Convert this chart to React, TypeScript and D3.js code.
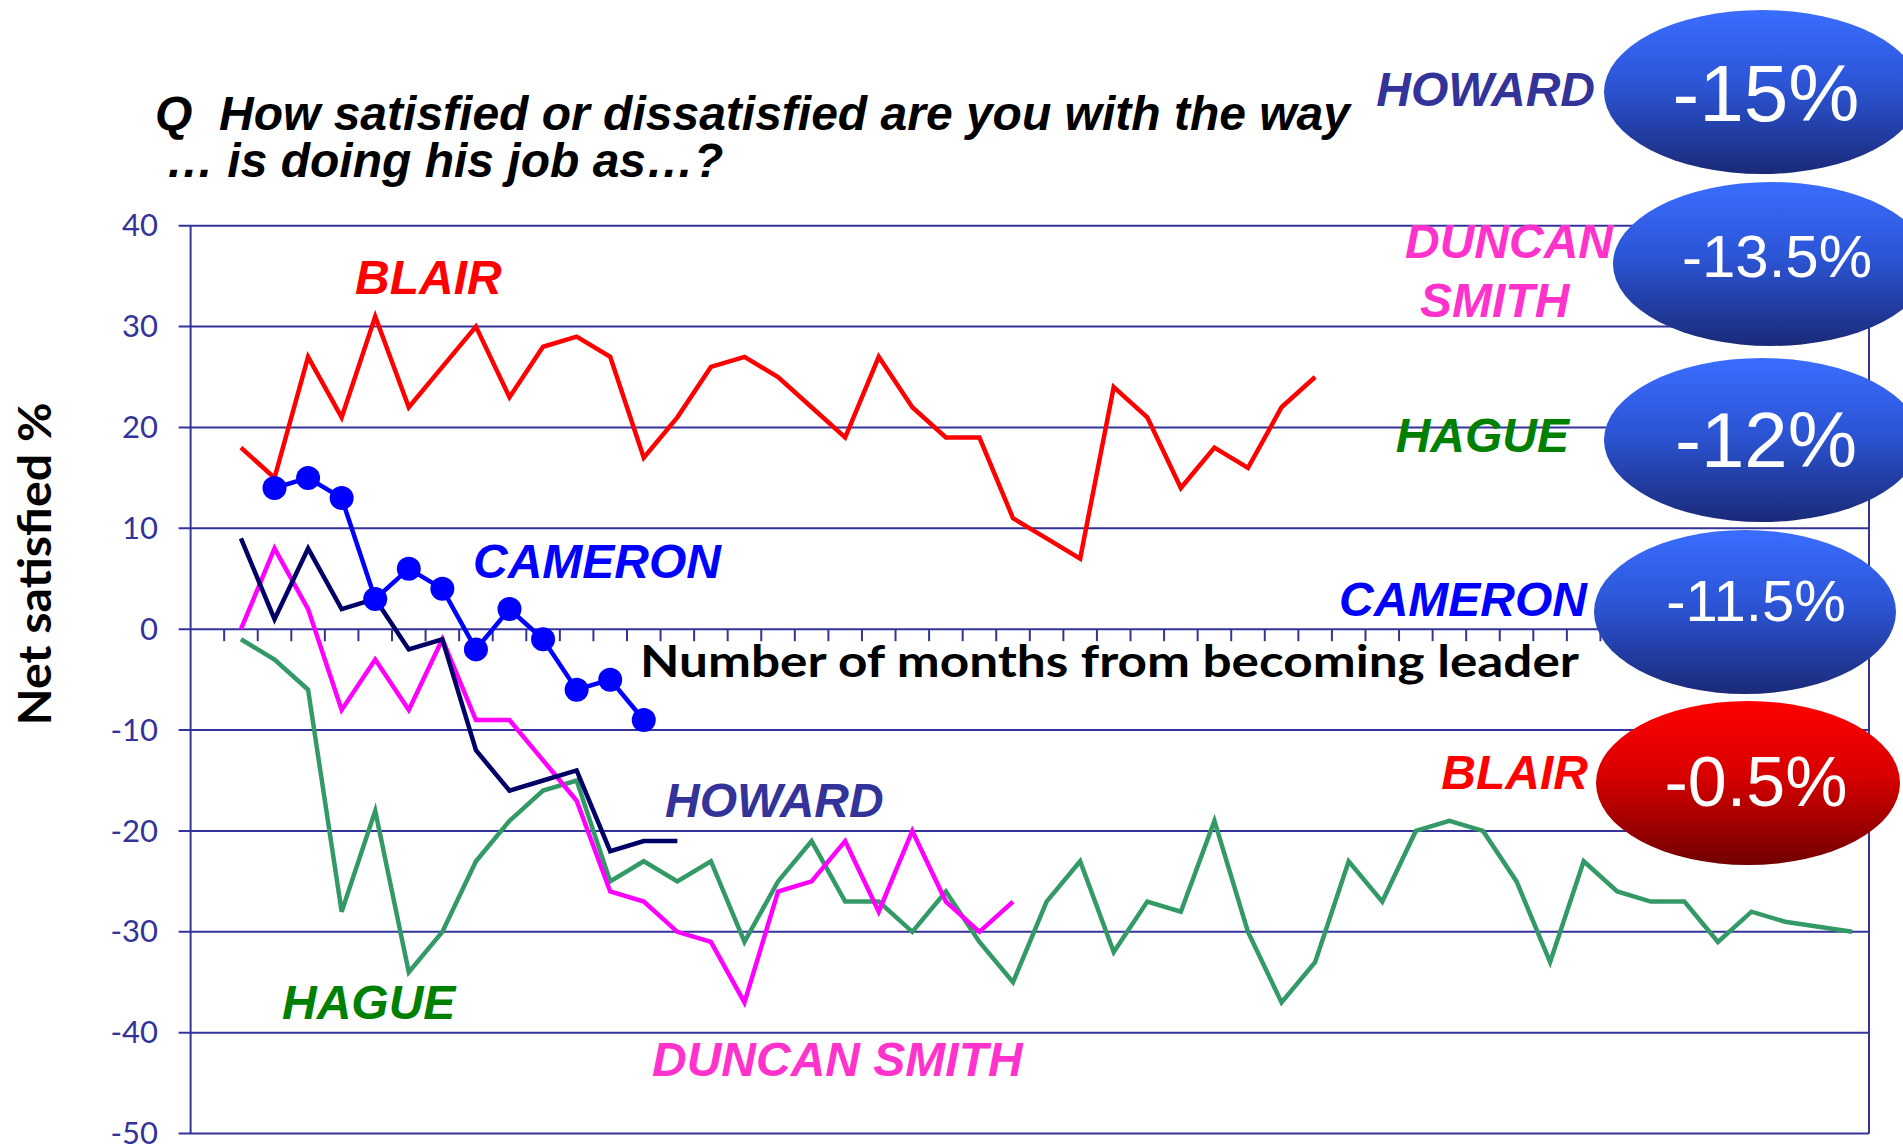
import React from 'react'
import * as d3 from 'd3'

// net satisfied %, one value per month since becoming leader
const blair = [18, 15, 27, 21, 31, 22, 26, 30, 23, 28, 29, 27, 17, 21, 26, 27, 25, 22, 19, 27, 22, 19, 19, 11, 9, 7, 24, 21, 14, 18, 16, 22, 25]
const cameron = [14, 15, 13, 3, 6, 4, -2, 2, -1, -6, -5, -9]
const howard = [9, 1, 8, 2, 3, -2, -1, -12, -16, -15, -14, -22, -21, -21]
const duncanSmith = [0, 8, 2, -8, -3, -8, -1, -9, -9, -13, -17, -26, -27, -30, -31, -37, -26, -25, -21, -28, -20, -27, -30, -27]
const hague = [-1, -3, -6, -28, -18, -34, -30, -23, -19, -16, -15, -25, -23, -25, -23, -31, -25, -21, -27, -27, -30, -26, -31, -35, -27, -23, -32, -27, -28, -19, -30, -37, -33, -23, -27, -20, -19, -20, -25, -33, -23, -26, -27, -27, -31, -28, -29, -29.5, -30]

// first month of each series on the category axis
const blairStart = 1
const cameronStart = 2
const howardStart = 1
const duncanStart = 1
const hagueStart = 1

const monthCount = 50
const yTicks = [40, 30, 20, 10, 0, -10, -20, -30, -40, -50]

// average change shown in the bubbles
const summaryNames = ['HOWARD', 'DUNCAN SMITH', 'HAGUE', 'CAMERON', 'BLAIR']
const summaryValues = ['-15%', '-13.5%', '-12%', '-11.5%', '-0.5%']

const axisColor = '#333399'
const boldItalic = '"Liberation Sans", Arial, sans-serif'
const gill = 'Lato, "Open Sans", sans-serif'

const App = () => {
  const svgWidth = 1903
  const svgHeight = 1147
  const left = 190.6
  const right = 1869
  const top = 225.7
  const bottom = 1133.6

  const x = d3.scaleBand<number>()
    .domain(d3.range(monthCount))
    .range([left, right])
    .paddingInner(0)
    .paddingOuter(0)
  const y = d3.scaleLinear().domain([-50, 40]).range([bottom, top])
  const bw = x.bandwidth()

  const cx = (i: number) => (x(i) as number) + bw / 2

  const makeLine = (start: number) =>
    d3.line<number>()
      .x((d, i) => cx(start + i))
      .y(d => y(d))

  const series = [
    { data: hague, start: hagueStart, color: '#339966' },
    { data: duncanSmith, start: duncanStart, color: '#ff00ff' },
    { data: howard, start: howardStart, color: '#000066' },
    { data: blair, start: blairStart, color: '#ff0000' },
    { data: cameron, start: cameronStart, color: '#0000ff' },
  ]

  // bubble layout (right side)
  const bubbles = [
    { cx: 1762, cy: 92, rx: 158, tx: 1766, ty: 121, fs: 80, fill: 'url(#blueGrad)', label: 1595, ly: 106, color: '#333399' },
    { cx: 1771, cy: 264, rx: 158, tx: 1777, ty: 277, fs: 60, fill: 'url(#blueGrad)', label: 0, ly: 0, color: '#ff33cc' },
    { cx: 1762, cy: 440, rx: 158, tx: 1766, ty: 467, fs: 78, fill: 'url(#blueGrad)', label: 1569, ly: 452, color: '#008000' },
    { cx: 1745, cy: 612, rx: 151, tx: 1756, ty: 621, fs: 58, fill: 'url(#blueGrad)', label: 1587, ly: 616, color: '#0000ff' },
    { cx: 1748, cy: 783, rx: 152, tx: 1756, ty: 806, fs: 70, fill: 'url(#redGrad)', label: 1588, ly: 789, color: '#ff0000' },
  ]

  const y0 = y(0)

  return (
    <svg width={svgWidth} height={svgHeight} style={{ position: 'absolute', left: 0, top: 0, background: '#fff' }}>
      <defs>
        <linearGradient id="blueGrad" x1="0" y1="0" x2="0" y2="1">
          <stop offset="0" stopColor="#3a6dff" />
          <stop offset="0.45" stopColor="#2c55d6" />
          <stop offset="1" stopColor="#1a2a78" />
        </linearGradient>
        <linearGradient id="redGrad" x1="0" y1="0" x2="0" y2="1">
          <stop offset="0" stopColor="#ff0000" />
          <stop offset="0.45" stopColor="#d80000" />
          <stop offset="1" stopColor="#720000" />
        </linearGradient>
      </defs>

      {/* title */}
      <text x={155} y={130} fontFamily={boldItalic} fontWeight="bold" fontStyle="italic" fontSize={48} fill="#000" style={{ whiteSpace: 'pre' }}>
        {'Q  How satisfied or dissatisfied are you with the way'}
      </text>
      <text x={166} y={177} fontFamily={boldItalic} fontWeight="bold" fontStyle="italic" fontSize={48} fill="#000">
        … is doing his job as…?
      </text>

      {/* grid + y axis */}
      <g stroke={axisColor} strokeWidth={2}>
        {yTicks.map(t => (
          <line key={'g' + t} x1={left - 12} x2={right} y1={y(t)} y2={y(t)} />
        ))}
        <line x1={left} x2={left} y1={top} y2={bottom} />
        <line x1={right} x2={right} y1={top} y2={bottom} />
        {d3.range(1, monthCount).map(i => (
          <line key={'t' + i} x1={x(i)} x2={x(i)} y1={y0} y2={y0 + 12} />
        ))}
      </g>
      <g fontFamily={gill} fontSize={31} fill={axisColor} textAnchor="end">
        {yTicks.map(t => (
          <text key={'l' + t} x={158} y={y(t)} dy="0.34em">{t}</text>
        ))}
      </g>
      <text transform="translate(51,564) rotate(-90)" textAnchor="middle" fontFamily={gill} fontWeight="bold" fontSize={46} textLength={323} lengthAdjust="spacingAndGlyphs" fill="#000">
        Net satisfied %
      </text>

      {/* series */}
      {series.map((s, k) => (
        <path key={'s' + k} d={makeLine(s.start)(s.data) || ''} fill="none" stroke={s.color} strokeWidth={4.5} strokeLinejoin="miter" />
      ))}
      {cameron.map((d, i) => (
        <circle key={'c' + i} cx={cx(cameronStart + i)} cy={y(d)} r={12} fill="#0000ff" />
      ))}

      <text x={640} y={677} fontFamily={gill} fontWeight="bold" fontSize={44} textLength={939} lengthAdjust="spacingAndGlyphs" fill="#000">
        Number of months from becoming leader
      </text>

      {/* in-plot labels */}
      <g fontFamily={boldItalic} fontWeight="bold" fontStyle="italic" fontSize={48}>
        <text x={355} y={294} fill="#ff0000">BLAIR</text>
        <text x={473} y={578} fill="#0000ff">CAMERON</text>
        <text x={665} y={817} fill="#333399">HOWARD</text>
        <text x={282} y={1019} fill="#008000">HAGUE</text>
        <text x={652} y={1076} fill="#ff33cc">DUNCAN SMITH</text>
      </g>

      {/* summary bubbles */}
      {bubbles.map((b, i) => (
        <g key={'b' + i}>
          <ellipse cx={b.cx} cy={b.cy} rx={b.rx} ry={82} fill={b.fill} />
          <text x={b.tx} y={b.ty} textAnchor="middle" fontFamily={boldItalic} fontSize={b.fs} fill="#fff">
            {summaryValues[i]}
          </text>
        </g>
      ))}
      <g fontFamily={boldItalic} fontWeight="bold" fontStyle="italic" fontSize={48}>
        {bubbles.map((b, i) => i === 1 ? (
          <g key={'n' + i} fill={b.color}>
            <text x={1405} y={258}>{summaryNames[i].split(' ')[0]}</text>
            <text x={1420} y={317}>{summaryNames[i].split(' ')[1]}</text>
          </g>
        ) : (
          <text key={'n' + i} x={b.label} y={b.ly} textAnchor="end" fill={b.color}>{summaryNames[i]}</text>
        ))}
      </g>
    </svg>
  )
}

export default App
